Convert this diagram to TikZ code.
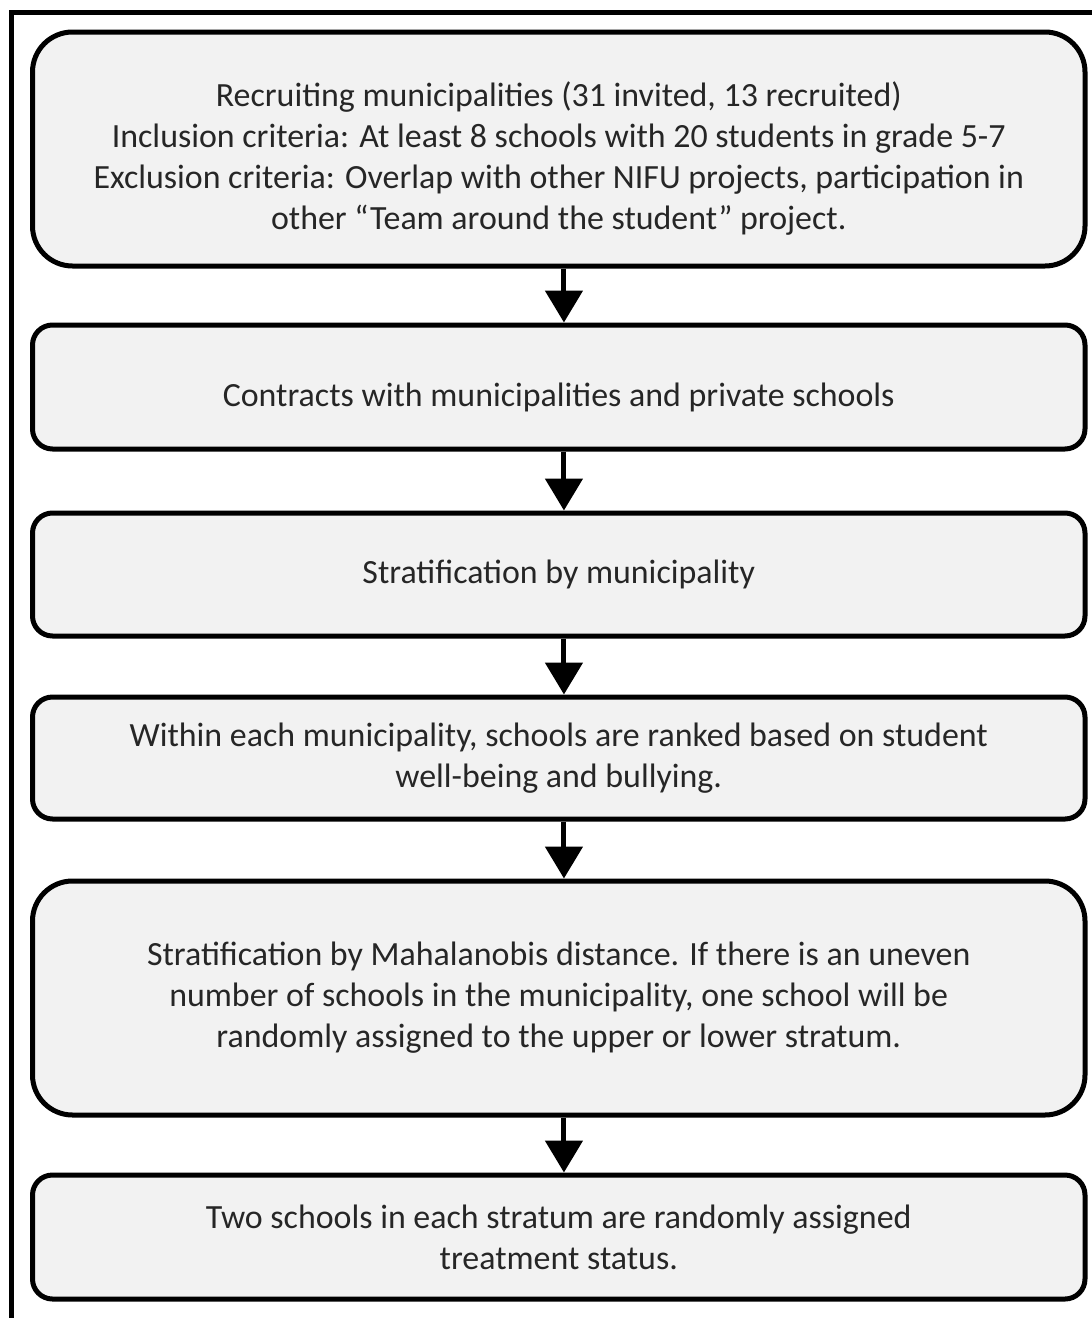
\documentclass[tikz,border=0pt]{standalone}
\usepackage{fontspec}
\setmainfont{Carlito}
\usetikzlibrary{arrows.meta}
\definecolor{boxfill}{HTML}{F2F2F2}
\definecolor{boxtext}{HTML}{262626}
\newcommand{\lowstrut}{\rule{0pt}{22pt}}

\begin{document}
\begin{tikzpicture}[x = .5pt, y = -.5pt,
  stage/.style = {draw, line width = 2.5pt, fill = boxfill, text = boxtext, rounded corners = 10pt,
    minimum width = 526.25pt, align = center, font = \fontsize{16.95}{20.5}\selectfont},
  tall/.style = {rounded corners = 20pt},
  flow/.style = {line width = 2.5pt, -{Triangle[width = 18.5pt, length = 16pt]}}]
\useasboundingbox (0,0) rectangle (1092,1318);
\draw[line width = 2.5pt] (1092,12.5) -- (11.5,12.5) -- (11.5,1318);
\node[stage, tall, minimum height = 117pt] (recruit) at (558.75,149) {\lowstrut Recruiting municipalities (31 invited, 13 recruited)\\ Inclusion criteria: At least 8 schools with 20 students in grade 5-7\\ Exclusion criteria: Overlap with other NIFU projects, participation in\\ other ``Team around the student'' project.};
\node[stage, minimum height = 62pt] (contract) at (558.75,387) {\lowstrut Contracts with municipalities and private schools};
\node[stage, minimum height = 61.5pt] (strat) at (558.75,574.5) {Stratification by municipality};
\node[stage, minimum height = 61pt] (rank) at (558.75,758) {Within each municipality, schools are ranked based on student\\ well-being and bullying.};
\node[stage, tall, minimum height = 117pt] (maha) at (558.75,998) {Stratification by Mahalanobis distance. If there is an uneven\\ number of schools in the municipality, one school will be\\ randomly assigned to the upper or lower stratum.};
\node[stage, minimum height = 62pt] (assign) at (558.75,1237) {Two schools in each stratum are randomly assigned\\ treatment status.};
\draw[flow] ([xshift = 2.6pt]recruit.south) -- ([xshift = 2.6pt]contract.north);
\draw[flow] ([xshift = 2.6pt]contract.south) -- ([xshift = 2.6pt]strat.north);
\draw[flow] ([xshift = 2.6pt]strat.south) -- ([xshift = 2.6pt]rank.north);
\draw[flow] ([xshift = 2.6pt]rank.south) -- ([xshift = 2.6pt]maha.north);
\draw[flow] ([xshift = 2.6pt]maha.south) -- ([xshift = 2.6pt]assign.north);
\end{tikzpicture}
\end{document}
